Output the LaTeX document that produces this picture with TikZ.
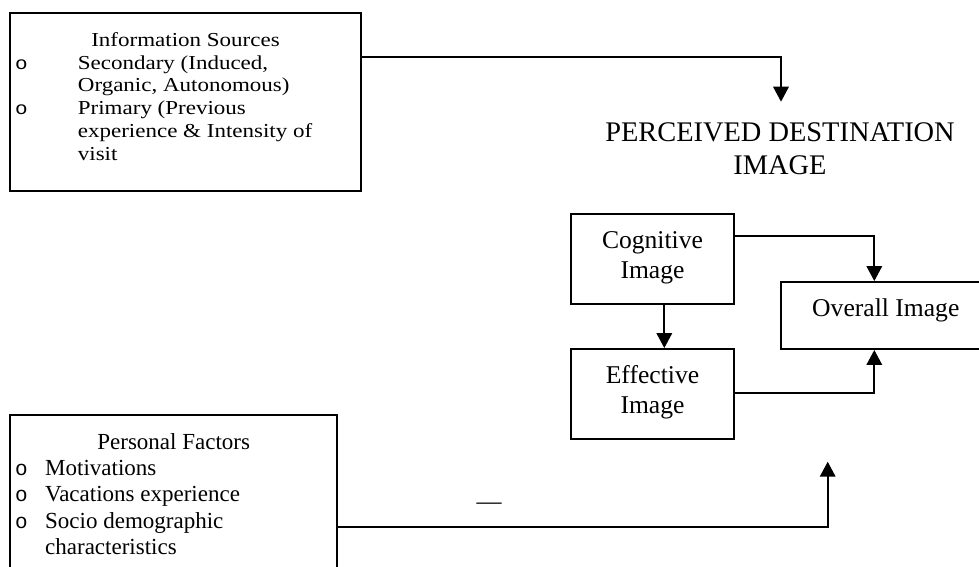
\documentclass[tikz,border=0pt]{standalone}
\usepackage{fontspec}
\usepackage{graphicx}
\setmainfont{Liberation Serif}
\newfontfamily\bulletfont{Liberation Mono}
\usetikzlibrary{arrows.meta}

% font size with explicit line spacing
\newcommand\txtsize[2]{\fontsize{#1}{#2}\selectfont}
% hollow list bullet
\newcommand\bul{{\bulletfont\fontsize{21}{24}\selectfont o}}

\begin{document}
\begin{tikzpicture}[x=1pt,y=-1pt,
  frame/.style={draw, line width=1.9pt, inner sep=0pt, rectangle},
  conn/.style={line width=1.9pt, -{Triangle[length=15pt,width=15.5pt]}},
  lbl/.style={inner sep=0pt, anchor=base},
]
\useasboundingbox (0,0) rectangle (979,566);
\clip (0,0) rectangle (979,566);

% ---- boxes ----
\node[frame, minimum width=351pt, minimum height=178pt] (info) at (185.5,102) {};
\node[frame, minimum width=327.3pt, minimum height=160pt] (personal) at (173.7,495) {};
\node[frame, minimum width=163.6pt, minimum height=90pt] (cog) at (652.5,259.3) {};
\node[frame, minimum width=163.6pt, minimum height=90pt] (eff) at (652.5,394) {};
\node[frame, minimum width=210.3pt, minimum height=67pt] (overall) at (885.8,315.5) {};

% ---- information sources ----
\node[lbl] (infotitle) at (185.5,46) {\scalebox{1}[0.86]{\txtsize{23}{26.4}Information Sources}};
\node[lbl, anchor=base west] (infolist) at (15,69) {\scalebox{1}[0.86]{\txtsize{23}{26.6}%
\begin{tabular}[t]{@{}p{62.7pt}@{}l@{}}
\bul & Secondary (Induced,\\
     & Organic, Autonomous)\\
\bul & Primary (Previous\\
     & experience \& Intensity of\\
     & visit
\end{tabular}}};

% ---- personal factors ----
\node[lbl] (perstitle) at (173.7,449.3) {\txtsize{23}{26.3}Personal Factors};
\node[lbl, anchor=base west] (perslist) at (15,475.6) {\txtsize{23}{26.3}%
\begin{tabular}[t]{@{}p{30pt}@{}l@{}}
\bul & Motivations\\
\bul & Vacations experience\\
\bul & Socio demographic\\
     & characteristics
\end{tabular}};

% ---- destination image ----
\node[lbl] (perc) at (780,141.7) {\txtsize{28.4}{32.7}%
\begin{tabular}[t]{@{}c@{}}PERCEIVED DESTINATION\\IMAGE\end{tabular}};
\node[lbl] (cogtext) at (652.5,248.3) {\txtsize{25.6}{30}%
\begin{tabular}[t]{@{}c@{}}Cognitive\\Image\end{tabular}};
\node[lbl] (efftext) at (652.5,383.3) {\txtsize{25.6}{30}%
\begin{tabular}[t]{@{}c@{}}Effective\\Image\end{tabular}};
\node[lbl] (overalltext) at (885.8,316.7) {\txtsize{25.6}{30}Overall Image};

\node[lbl] (dash) at (489,509.3) {\txtsize{25}{30}---};

% ---- connectors ----
\coordinate (percin) at (781,101.7);
\coordinate (percin2) at (827.7,461.7);
\draw[conn] ([yshift=-44.5pt]info.north east) -| (percin);
\draw[conn] ([yshift=-113.3pt]personal.north east) -| (percin2);
\draw[conn] ([yshift=-22.4pt]cog.north east) -| ([xshift=-11.5pt]overall.north);
\draw[conn] ([xshift=11.8pt]cog.south) -- ([xshift=11.8pt]eff.north);
\draw[conn] ([yshift=0.7pt]eff.east) -| ([xshift=-11.5pt]overall.south);
\end{tikzpicture}
\end{document}
